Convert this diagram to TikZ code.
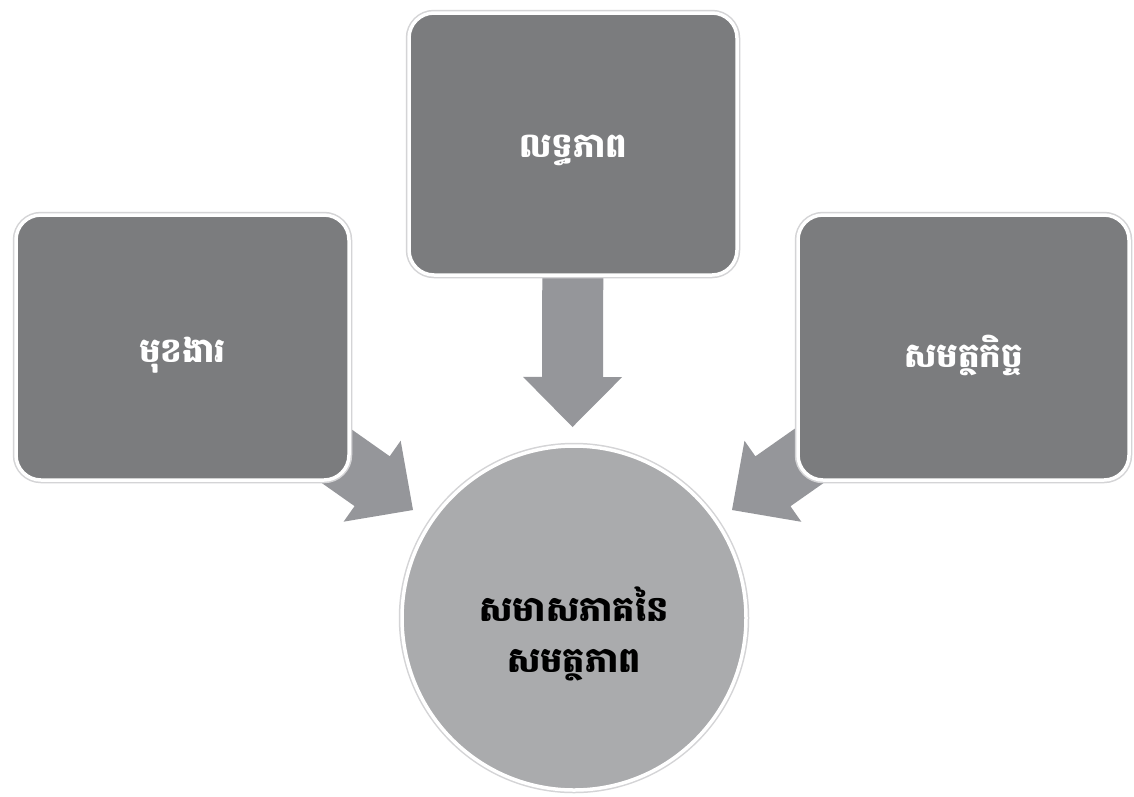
\documentclass[tikz,border=0pt]{standalone}
\usepackage{fontspec}
\newfontfamily\khmerfont[Script=Khmer]{Battambang}
\usetikzlibrary{calc}
\definecolor{boxgray}{HTML}{7B7C7E}
\definecolor{circgray}{HTML}{AAABAD}
\definecolor{arrowgray}{HTML}{95969A}
\definecolor{glow}{HTML}{D4D4D6}
\tikzset{
  card/.style={rectangle, rounded corners=25pt, fill=boxgray, draw=white, line width=3.5pt,
    preaction={draw=glow, line width=6.5pt}, inner sep=0pt},
  cardtext/.style={text=white, font=\khmerfont\bfseries\fontsize{34}{40}\selectfont, inner sep=0pt},
  hub/.style={circle, fill=circgray, draw=white, line width=3.5pt,
    preaction={draw=glow, line width=6.5pt}, inner sep=0pt},
  hubtext/.style={text=black, align=center, font=\khmerfont\bfseries\fontsize{35}{51}\selectfont, inner sep=0pt},
  arrowfill/.style={fill=arrowgray}
}
\newcommand{\blockarrow}[2]{%
  \coordinate (bh) at ($(#2)!50pt!(#1)$);
  \fill[arrowfill] ($(#1)!30.5pt!90:(#2)$) -- ($(bh)!30.5pt!-90:(#1)$) -- ($(bh)!49.5pt!-90:(#1)$)
    -- (#2) -- ($(bh)!49.5pt!90:(#1)$) -- ($(bh)!30.5pt!90:(#1)$) -- ($(#1)!30.5pt!-90:(#2)$) -- cycle;
}
\begin{document}
\begin{tikzpicture}[x=1pt,y=-1pt]
  \useasboundingbox (0,0) rectangle (1134,796);
  \fill[white] (0,0) rectangle (1134,796);
  % anchor points
  \coordinate (topc) at (573,144);
  \coordinate (leftc) at (182.5,347.5);
  \coordinate (rightc) at (963.5,347.5);
  \coordinate (tipD) at (572.5,427);
  \coordinate (tipL) at (413,510);
  \coordinate (tipR) at (732,510);
  % arrows (behind)
  \blockarrow{topc}{tipD}
  \blockarrow{leftc}{tipL}
  \blockarrow{rightc}{tipR}
  % boxes
  \node[card, minimum width=328pt, minimum height=262pt] (top) at (topc) {};
  \node[card, minimum width=333pt, minimum height=265pt] (left) at (leftc) {};
  \node[card, minimum width=331pt, minimum height=265pt] (right) at (rightc) {};
  \node[hub, minimum size=344pt] (hub) at (574,618) {};
  % labels
  \node[cardtext] (toplabel) at ($(top.center)+(0,6)$) {លទ្ធភាព};
  \node[cardtext] (leftlabel) at ($(left.center)+(0,8)$) {មុខងារ};
  \node[cardtext] (rightlabel) at ($(right.center)+(0,8)$) {សមត្ថកិច្ច};
  \node[hubtext] (hublabel) at ($(hub.center)+(0,16)$) {សមាសភាគនៃ\\សមត្ថភាព};
\end{tikzpicture}
\end{document}
